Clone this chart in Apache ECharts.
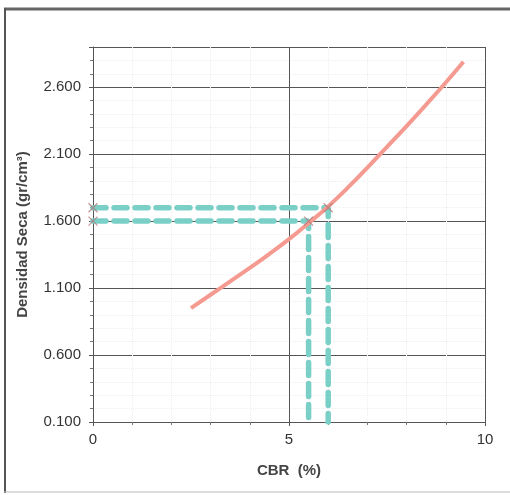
<!DOCTYPE html>
<html>
<head>
<meta charset="utf-8">
<script src="https://cdn.jsdelivr.net/npm/echarts@6/dist/echarts.min.js"></script>
<style>
  html, body { margin: 0; padding: 0; background: #fff; }
  #chart { width: 510px; height: 495px; }
</style>
</head>
<body>
<div id="chart"></div>
<script>
// Dry density vs CBR curve
const cbr = [2.5, 3.0, 3.5, 4.0, 4.5, 5.0, 5.5, 6.0, 6.5, 7.0, 7.5, 8.0, 8.5, 9.0, 9.45];
const densidad = [0.95, 1.05, 1.15, 1.25, 1.355, 1.465, 1.585, 1.71, 1.85, 2.0, 2.155, 2.31, 2.47, 2.635, 2.79];

// Reading lines: density level -> CBR value
const lecturaDensidad = [1.6, 1.7];
const lecturaCbr = [5.5, 6.0];

const yMin = 0.1, yMax = 2.9, yStep = 0.5;
const xMin = 0, xMax = 10, xStep = 5;

const curveData = cbr.map((x, i) => [x, densidad[i]]);

const lecturaSeries = lecturaDensidad.map((d, i) => ({
  type: 'line',
  data: [[xMin, d], [lecturaCbr[i], d], [lecturaCbr[i], yMin]],
  symbol: 'none',
  lineStyle: { color: '#7acfc7', width: 5.5, type: [13, 8], cap: 'round' },
  z: 3,
  silent: true
}));

const crossPts = [];
lecturaDensidad.forEach((d, i) => {
  crossPts.push([xMin, d]);
  crossPts.push([lecturaCbr[i], d]);
});

const labelFont = { fontFamily: 'Liberation Sans', fontSize: 15, color: '#333' };
const nameFont = { fontFamily: 'Liberation Sans', fontWeight: 'bold', fontSize: 15, color: '#444' };

const chart = echarts.init(document.getElementById('chart'));
chart.setOption({
  animation: false,
  backgroundColor: '#fff',
  grid: { left: 93, right: 25, top: 47, bottom: 73 },
  xAxis: {
    type: 'value', min: xMin, max: xMax, interval: xStep,
    name: 'CBR  (%)', nameLocation: 'middle', nameGap: 41,
    nameTextStyle: nameFont,
    axisLine: { show: true, lineStyle: { color: '#555', width: 1 } },
    axisTick: { show: true, length: 4, lineStyle: { color: '#555' } },
    minorTick: { show: true, splitNumber: 5, length: 3, lineStyle: { color: '#777' } },
    axisLabel: Object.assign({ margin: 10 }, labelFont),
    splitLine: { show: true, lineStyle: { color: '#555', width: 1 } },
    minorSplitLine: { show: true, lineStyle: { color: '#eef0f0', width: 1, type: 'dotted' } }
  },
  yAxis: {
    type: 'value', min: yMin, max: yMax, interval: yStep,
    name: 'Densidad Seca (gr/cm³)', nameLocation: 'middle', nameGap: 63,
    nameTextStyle: nameFont,
    axisLine: { show: true, lineStyle: { color: '#555', width: 1 } },
    axisTick: { show: true, length: 4, lineStyle: { color: '#555' } },
    minorTick: { show: true, splitNumber: 5, length: 3, lineStyle: { color: '#777' } },
    axisLabel: Object.assign({
      margin: 12,
      showMaxLabel: false,
      formatter: v => v.toFixed(3)
    }, labelFont),
    splitLine: { show: true, lineStyle: { color: '#555', width: 1 } },
    minorSplitLine: { show: true, lineStyle: { color: '#eef0f0', width: 1, type: 'dotted' } }
  },
  series: [
    ...lecturaSeries,
    {
      type: 'line',
      data: curveData,
      smooth: 0.5,
      symbol: 'none',
      lineStyle: { color: '#f59a91', width: 4 },
      z: 4,
      silent: true
    },
    {
      type: 'scatter',
      data: crossPts,
      symbol: 'path://M0,0L10,10M10,0L0,10',
      symbolSize: 9,
      itemStyle: { color: 'none', borderColor: '#b07a78', borderWidth: 1.2 },
      z: 5,
      silent: true
    }
  ],
  graphic: [
    { type: 'line', shape: { x1: 4, y1: 9, x2: 510, y2: 9 }, style: { stroke: '#666', lineWidth: 3 } },
    { type: 'line', shape: { x1: 5, y1: 8, x2: 5, y2: 493 }, style: { stroke: '#555', lineWidth: 2 } },
    { type: 'line', shape: { x1: 4, y1: 492, x2: 510, y2: 492 }, style: { stroke: '#bbb', lineWidth: 1 } }
  ]
});
</script>
</body>
</html>
